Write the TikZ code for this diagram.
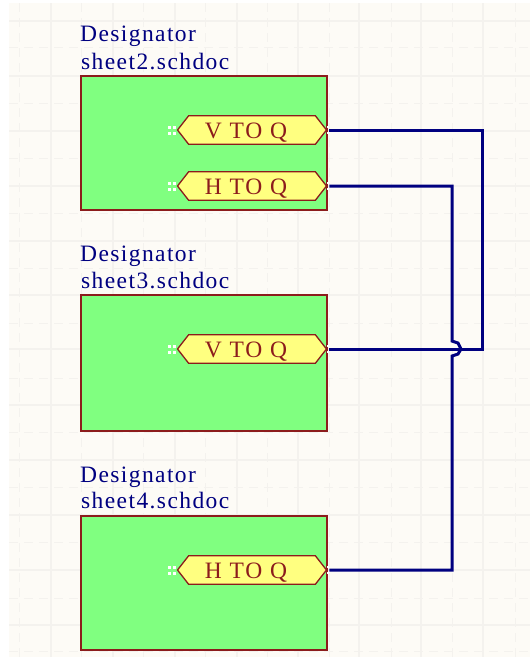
\documentclass[tikz,border=0pt]{standalone}
\usepackage{fontspec}
\usetikzlibrary{shapes.symbols}
\setmainfont{Liberation Serif}
\newfontfamily\lblfont[LetterSpace=6]{Liberation Serif}
\newfontfamily\portfont[LetterSpace=8]{Liberation Serif}
\newcommand{\portlabel}[1]{\raisebox{-8pt}[0pt][0pt]{\makebox[0pt][c]{\hspace{-12pt}#1}}}
\definecolor{bgc}{HTML}{FDFBF6}
\definecolor{gridc}{HTML}{F4F2EE}
\definecolor{wirec}{HTML}{000080}
\definecolor{edgec}{HTML}{8C1C1C}
\definecolor{sheetc}{HTML}{80FF80}
\definecolor{portc}{HTML}{FFFF80}
\tikzset{
  gridsolid/.style={draw=gridc,line width=1.2pt},
  griddash/.style={draw=gridc,line width=1pt,dash pattern=on 9pt off 6pt},
  sheetbox/.style={draw=edgec,fill=sheetc,line width=1.5pt,rectangle,minimum width=246pt,anchor=north west,inner sep=0pt,outer sep=0pt},
  portbox/.style={draw=edgec,fill=portc,line width=1.3pt,signal,signal to=west and east,signal pointer angle=104,minimum width=149pt,minimum height=28.5pt,inner sep=0pt,text=edgec,font=\fontsize{23.5}{23.5}\portfont},
  deslabel/.style={anchor=base west,inner sep=0pt,text=wirec,font=\fontsize{23.5}{23.5}\lblfont},
  wire/.style={draw=wirec,line width=3pt,line join=miter},
  pindot/.style={fill=white,draw=none,minimum size=3pt,inner sep=0pt,rectangle},
}
\begin{document}
\begin{tikzpicture}[x=1pt,y=-1pt]
\useasboundingbox (0,0) rectangle (530,657);
\fill[white] (0,0) rectangle (530,657);
\fill[bgc] (9,3) rectangle (530,657);
% grid
\foreach \gx in {51,113,175,237,298,359,421,483}
  \draw[gridsolid] (\gx,3) -- (\gx,657);
\foreach \gx in {19,81,143,205,267,329,391,452,515}
  \draw[griddash] (\gx,3) -- (\gx,657);
\foreach \gy in {21,76,131,186,241,295,349,405,460,515,570,625}
  \draw[gridsolid] (9,\gy) -- (530,\gy);
\foreach \gy in {47,103,158,213,268,323,378,432,487,542,598,651}
  \draw[griddash] (9,\gy) -- (530,\gy);
% sheets
\node[sheetbox,minimum height=134pt] (s2) at (81,76) {};
\node[sheetbox,minimum height=136pt] (s3) at (81,295) {};
\node[sheetbox,minimum height=134pt] (s4) at (81,516) {};
\node[deslabel] (d2) at (80,41) {Designator};
\node[deslabel] (f2) at (81,69) {sheet2.schdoc};
\node[deslabel] (d3) at (80,261) {Designator};
\node[deslabel] (f3) at (81,288) {sheet3.schdoc};
\node[deslabel] (d4) at (80,482) {Designator};
\node[deslabel] (f4) at (81,508) {sheet4.schdoc};
% ports
\node[portbox] (p2v) at (252,130) {\portlabel{V TO Q}};
\node[portbox] (p2h) at (252,186) {\portlabel{H TO Q}};
\node[portbox] (p3v) at (252,349) {\portlabel{V TO Q}};
\node[portbox] (p4h) at (252,570) {\portlabel{H TO Q}};
% pin marks
\foreach \pp in {p2v,p2h,p3v,p4h}{
  \foreach \dx/\dy in {-7/-3,-7/3,-2/-3,-2/3}
    \node[pindot] at ([xshift=\dx pt,yshift=\dy pt]\pp.west) {};
  \foreach \dy in {-3,3}
    \node[pindot,minimum size=2pt] at ([xshift=1pt,yshift=\dy pt]\pp.east) {};
}
% wires
\coordinate (vr) at (482,130);
\coordinate (vb) at (482,349);
\coordinate (ht) at (452,186);
\coordinate (hb) at (452,570);
\coordinate (j1) at (452,341);
\coordinate (j2) at (458,343);
\coordinate (j3) at (461,349);
\coordinate (j4) at (458,354);
\coordinate (j5) at (452,356);
\draw[wire] ([xshift=2pt]p2v.east) -- (vr) -- (vb) -- ([xshift=2pt]p3v.east);
\draw[wire] ([xshift=2pt]p2h.east) -- (ht) -- (j1) -- (j2) -- (j3) -- (j4) -- (j5) -- (hb) -- ([xshift=2pt]p4h.east);
\end{tikzpicture}
\end{document}
